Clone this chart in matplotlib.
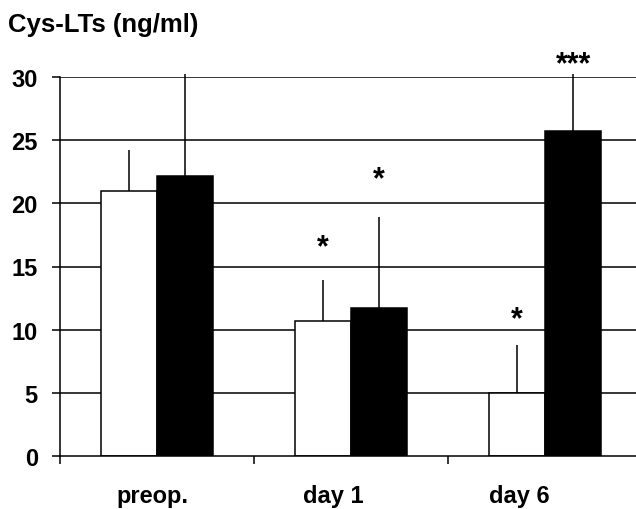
import matplotlib.pyplot as plt
import numpy as np

plt.rcParams['font.family'] = ['Liberation Sans', 'DejaVu Sans']
plt.rcParams['font.weight'] = 'bold'

groups = ['preop.', 'day 1', 'day 6']
white_vals = [21.0, 10.7, 5.0]
white_err = [3.2, 3.2, 3.8]
black_vals = [22.2, 11.7, 25.7]
black_err = [8.0, 7.2, 4.5]
white_sig = ['', '*', '*']
black_sig = ['', '*', '***']
white_sig_y = [0, 16.5, 10.8]
black_sig_y = [0, 21.9, 31.0]

fig = plt.figure(figsize=(6.36, 5.10), dpi=100)
ax = fig.add_axes([60/636, 53/510, 582/636, 379/510])

x = np.arange(len(groups)) + 0.5
w = 0.29
lw = 1.1

for yv in range(5, 31, 5):
	ax.axhline(yv, color='black', lw=lw, zorder=1)

ax.bar(x - w/2, white_vals, w, color='white', edgecolor='black', lw=lw, zorder=2)
ax.bar(x + w/2, black_vals, w, color='black', edgecolor='black', lw=lw, zorder=2)

# only the upper half of the error bars is drawn
ax.vlines(x - w/2, white_vals, np.array(white_vals) + white_err, color='black', lw=lw, zorder=3, clip_on=False)
ax.vlines(x + w/2, black_vals, np.array(black_vals) + black_err, color='black', lw=lw, zorder=3, clip_on=False)

for i in range(len(groups)):
	if white_sig[i]:
		ax.text(x[i] - w/2, white_sig_y[i], white_sig[i], ha='center', va='center', fontsize=22, clip_on=False)
	if black_sig[i]:
		ax.text(x[i] + w/2, black_sig_y[i], black_sig[i], ha='center', va='center', fontsize=22, clip_on=False)

ax.set_xlim(0, 3)
ax.set_ylim(0, 30)
ax.set_yticks(range(0, 31, 5))
ax.set_xticks([0, 1, 2, 3])
ax.set_xticklabels([])
ax.set_xticks([0.479, 1.407, 2.366], minor=True)
ax.set_xticklabels(groups, minor=True)
ax.tick_params(axis='x', which='minor', length=0, pad=20, labelsize=17)
ax.tick_params(axis='x', which='major', length=6, width=lw)
ax.tick_params(axis='y', length=6, width=lw, pad=10, labelsize=17)

for s in ['top', 'right']:
	ax.spines[s].set_visible(False)
for s in ['left', 'bottom']:
	ax.spines[s].set_linewidth(lw)

fig.text(8/636, 1 - 25/510, 'Cys-LTs (ng/ml)', fontsize=18.5, va='center', ha='left')

plt.savefig('out.png', dpi=100)
